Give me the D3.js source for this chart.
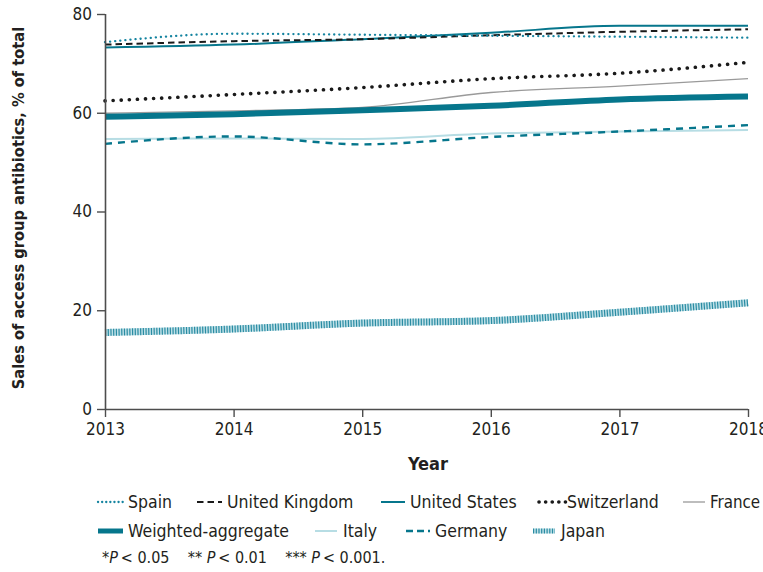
<!DOCTYPE html>
<html>
<head>
<meta charset="utf-8">
<script src="https://cdn.jsdelivr.net/npm/d3@7"></script>
<style>
  html, body { margin: 0; padding: 0; background: #fff; }
  svg { display: block; }
  text { font-family: "DejaVu Sans", sans-serif; font-stretch: condensed; fill: #231f20; }
</style>
</head>
<body>
<svg id="chart" width="763" height="572"></svg>
<script>
// Years on the x axis
const years = [2013, 2014, 2015, 2016, 2017, 2018];
const yTicks = [0, 20, 40, 60, 80];

// Share of access-group antibiotic sales, % of total
const spain        = [74.3, 76.0, 75.8, 75.6, 75.4, 75.2];
const unitedKingdom = [73.8, 74.5, 74.9, 75.7, 76.4, 76.9];
const unitedStates = [73.2, 73.8, 74.9, 76.2, 77.6, 77.6];
const switzerland  = [62.4, 63.7, 65.1, 66.9, 68.0, 70.2];
const france       = [59.9, 60.4, 61.1, 64.1, 65.4, 66.9];
const weighted     = [59.2, 59.7, 60.5, 61.4, 62.7, 63.3];
const italy        = [54.7, 54.8, 54.7, 55.8, 56.2, 56.5];
const germany      = [53.7, 55.2, 53.6, 55.1, 56.2, 57.5];
const japan        = [15.5, 16.2, 17.4, 17.9, 19.6, 21.5];

const TEAL = "#06768c";

const series = [
  { name: "Italy", values: italy, stroke: "#b7dde4", width: 2 },
  { name: "Germany", values: germany, stroke: TEAL, width: 2.4, dash: "7,6" },
  { name: "Japan", values: japan, stroke: "#bfe0e7", width: 7, overlay: { stroke: "#2a8ca3", width: 7, dash: "1.2,1.5" } },
  { name: "France", values: france, stroke: "#9a9a9a", width: 1.3 },
  { name: "Weighted-aggregate", values: weighted, stroke: TEAL, width: 6 },
  { name: "Switzerland", values: switzerland, stroke: "#1a1a1a", width: 3.6, dash: "0.1,8", cap: "round" },
  { name: "United States", values: unitedStates, stroke: TEAL, width: 2 },
  { name: "United Kingdom", values: unitedKingdom, stroke: "#1a1a1a", width: 2, dash: "6.5,4" },
  { name: "Spain", values: spain, stroke: "#1584a0", width: 2.3, dash: "0.1,5", cap: "round" }
];

const svg = d3.select("#chart");

const x = d3.scaleLinear().domain([2013, 2018]).range([105, 748]);
const y = d3.scaleLinear().domain([0, 80]).range([409, 14]);

const line = d3.line()
  .x((d, i) => x(years[i]))
  .y(d => y(d))
  .curve(d3.curveMonotoneX);

// Series lines
const lines = svg.append("g");
series.forEach(s => {
  lines.append("path")
    .attr("d", line(s.values))
    .attr("fill", "none")
    .attr("stroke", s.stroke)
    .attr("stroke-width", s.width)
    .attr("stroke-dasharray", s.dash || null)
    .attr("stroke-linecap", s.cap || "butt");
  if (s.overlay) {
    lines.append("path")
      .attr("d", line(s.values))
      .attr("fill", "none")
      .attr("stroke", s.overlay.stroke)
      .attr("stroke-width", s.overlay.width)
      .attr("stroke-dasharray", s.overlay.dash);
  }
});

// Axes
const axisColor = "#4d4d4d";
const yAxis = svg.append("g")
  .attr("transform", `translate(${x(2013)},0)`)
  .call(d3.axisLeft(y).tickValues(yTicks).tickSize(8).tickPadding(5).tickFormat(d3.format("d")));
const xAxis = svg.append("g")
  .attr("transform", `translate(0,${y(0)})`)
  .call(d3.axisBottom(x).tickValues(years).tickSize(8).tickPadding(6).tickFormat(d3.format("d")));

[yAxis, xAxis].forEach(ax => {
  ax.select(".domain").attr("stroke", axisColor).attr("stroke-width", 1.6);
  ax.selectAll(".tick line").attr("stroke", axisColor).attr("stroke-width", 1.4);
  ax.selectAll(".tick text").style("font-size", "17px").attr("fill", "#231f20")
    .style("font-family", "'DejaVu Sans', sans-serif").style("font-stretch", "condensed");
});
yAxis.select(".domain").attr("d", `M0.5,${y(80)}V${y(0)}`);
xAxis.select(".domain").attr("d", `M${x(2013)},0.5H${x(2018)}`);

// Axis titles
svg.append("text")
  .attr("x", 428).attr("y", 470)
  .attr("text-anchor", "middle")
  .style("font-size", "18px").style("font-weight", "bold")
  .text("Year");

svg.append("text")
  .attr("transform", "translate(24,208) rotate(-90)")
  .attr("text-anchor", "middle")
  .style("font-size", "16.3px").style("font-weight", "bold")
  .text("Sales of access group antibiotics, % of total");

// Legend
const legendRows = [
  { y: 502, items: [
    { key: "Spain", x0: 98, x1: 126, tx: 128 },
    { key: "United Kingdom", x0: 197, x1: 222, tx: 227 },
    { key: "United States", x0: 381, x1: 405, tx: 410 },
    { key: "Switzerland", x0: 539, x1: 566, tx: 567 },
    { key: "France", x0: 683, x1: 705, tx: 710 }
  ]},
  { y: 531, items: [
    { key: "Weighted-aggregate", x0: 98, x1: 123, tx: 128 },
    { key: "Italy", x0: 315, x1: 337, tx: 343 },
    { key: "Germany", x0: 406, x1: 430, tx: 435 },
    { key: "Japan", x0: 533, x1: 555, tx: 561 }
  ]}
];

const legend = svg.append("g");
legendRows.forEach(row => {
  row.items.forEach(it => {
    const s = series.find(d => d.name === it.key);
    const sw = it.key === "Japan" ? 5 : (it.key === "Weighted-aggregate" ? 5 : s.width);
    const sample = [[it.x0, row.y], [it.x1, row.y]];
    legend.append("path")
      .attr("d", d3.line()(sample))
      .attr("stroke", s.stroke)
      .attr("stroke-width", sw)
      .attr("stroke-dasharray", it.key === "Germany" ? "7,4" : (it.key === "Switzerland" ? "0.1,6.5" : (it.key === "Spain" ? "0.1,4" : (s.dash || null))))
      .attr("stroke-linecap", s.cap || "butt");
    if (s.overlay) {
      legend.append("path")
        .attr("d", d3.line()(sample))
        .attr("stroke", s.overlay.stroke)
        .attr("stroke-width", sw)
        .attr("stroke-dasharray", s.overlay.dash);
    }
    legend.append("text")
      .attr("x", it.tx).attr("y", row.y)
      .attr("dy", "0.35em")
      .style("font-size", it.key === "France" ? "16.8px" : "17.5px")
      .text(it.key);
  });
});

// Significance note
const note = svg.append("text")
  .attr("x", 102).attr("y", 557).attr("dy", "0.35em")
  .attr("xml:space", "preserve")
  .style("font-size", "16px");
[["*", false], ["P", true], ["\u2009< 0.05", false], ["    ** ", false], ["P", true], ["\u2009< 0.01", false],
 ["    *** ", false], ["P", true], ["\u2009< 0.001.", false]].forEach(([t, it]) => {
  note.append("tspan").style("font-style", it ? "italic" : "normal").text(t);
});
</script>
</body>
</html>
